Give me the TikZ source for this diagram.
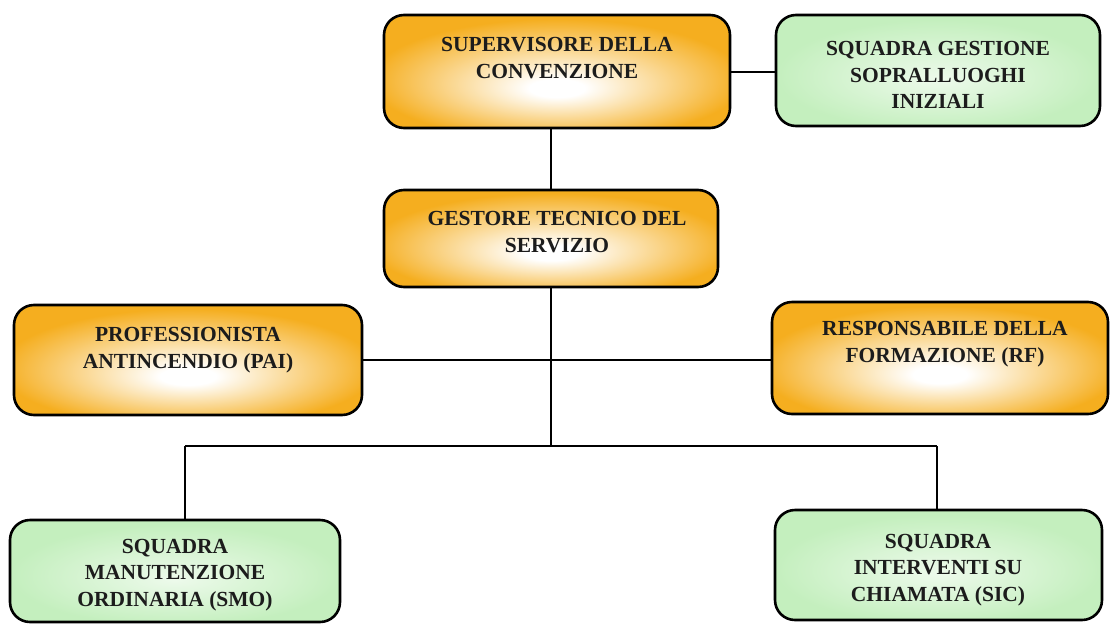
\documentclass[tikz,border=0pt]{standalone}
\usepackage{fontspec}
\setmainfont{Liberation Serif}
\usepackage{tikz}

\definecolor{boxorange}{HTML}{F5AE1F}
\definecolor{boxgreen}{HTML}{C4EFBE}
\definecolor{boxtextcol}{HTML}{1C1C1C}
\pgfdeclareradialshading{orangeglow}{\pgfpoint{0bp}{-8bp}}{color(0bp)=(white); color(4bp)=(white); color(27bp)=(boxorange); color(50bp)=(boxorange)}
\pgfdeclareradialshading{greenglow}{\pgfpoint{0bp}{-4bp}}{color(0bp)=(white!70!boxgreen); color(25bp)=(boxgreen); color(50bp)=(boxgreen)}

\begin{document}
\begin{tikzpicture}[x=1pt,y=-1pt,
  orangebox/.style={draw=black,line width=2.6pt,rounded corners=20pt,shading=orangeglow,inner sep=0pt},
  greenbox/.style={draw=black,line width=2.6pt,rounded corners=20pt,shading=greenglow,inner sep=0pt},
  boxtext/.style={align=center,text=boxtextcol,font=\fontsize{21.5}{26.5}\selectfont\bfseries,inner sep=0pt},
  link/.style={line width=2pt}]
\useasboundingbox (0,0) rectangle (1110,624);
\fill[white] (0,0) rectangle (1110,624);
% boxes
\node[orangebox,minimum width=346pt,minimum height=113pt] (sup) at (557,71.5) {};
\node[greenbox,minimum width=324pt,minimum height=111pt] (sgs) at (938,70.5) {};
\node[orangebox,minimum width=334pt,minimum height=97pt] (ges) at (551,238.5) {};
\node[orangebox,minimum width=348pt,minimum height=110pt] (pai) at (188,360) {};
\node[orangebox,minimum width=336pt,minimum height=112pt] (rf) at (940,358) {};
\node[greenbox,minimum width=330pt,minimum height=102pt] (smo) at (175,571) {};
\node[greenbox,minimum width=327pt,minimum height=110pt] (sic) at (938.5,565) {};
% texts
\node[boxtext] (supt) at (557,58) {SUPERVISORE DELLA\\CONVENZIONE};
\node[boxtext] (sgst) at (938,75) {SQUADRA GESTIONE\\SOPRALLUOGHI\\INIZIALI};
\node[boxtext] (gest) at (557,232) {GESTORE TECNICO DEL\\SERVIZIO};
\node[boxtext] (pait) at (188,350) {PROFESSIONISTA\\ANTINCENDIO (PAI)};
\node[boxtext] (rft) at (945,344) {RESPONSABILE DELLA\\FORMAZIONE (RF)};
\node[boxtext] (smot) at (175,575) {SQUADRA\\MANUTENZIONE\\ORDINARIA (SMO)};
\node[boxtext] (sict) at (938,570) {SQUADRA\\INTERVENTI SU\\CHIAMATA (SIC)};
% connectors
\coordinate (split) at (551,446);
\coordinate (smotop) at (185,446);
\coordinate (sictop) at (937,446);
\draw[link] (sup.east) -- (sgs.west |- sup.east);
\draw[link] (ges.north) -- (ges.north |- sup.south);
\draw[link] (ges.south) -- (split);
\draw[link] (pai.east) -- (pai.east -| rf.west);
\draw[link] (smotop) -- (sictop);
\draw[link] (smotop) -- (smotop |- smo.north);
\draw[link] (sictop) -- (sictop |- sic.north);
\end{tikzpicture}
\end{document}
